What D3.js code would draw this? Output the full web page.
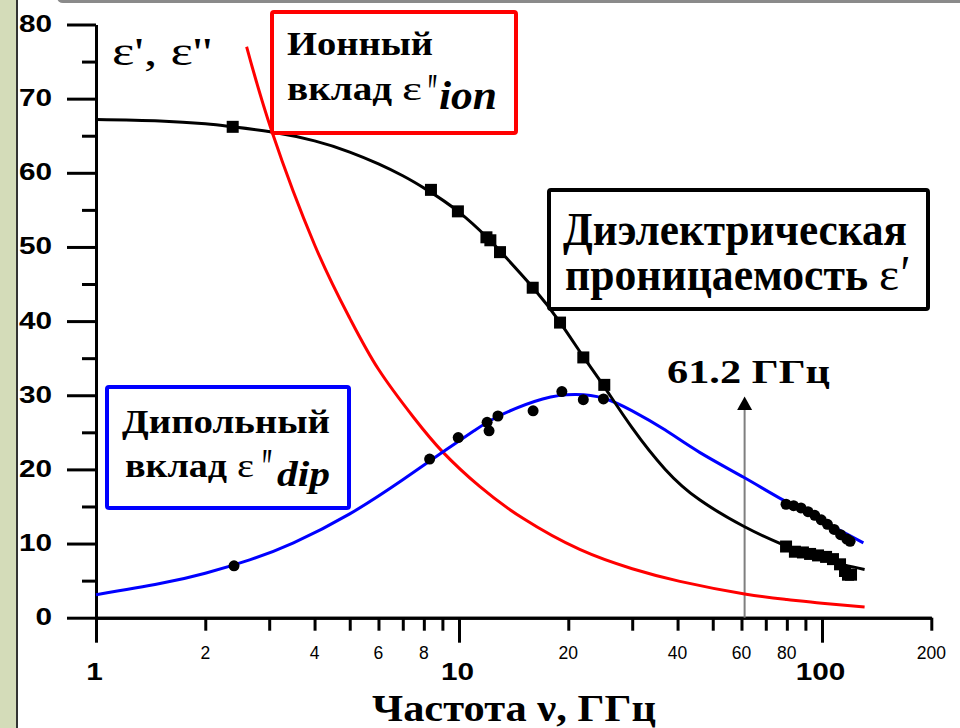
<!DOCTYPE html>
<html>
<head>
<meta charset="utf-8">
<script src="https://cdn.jsdelivr.net/npm/d3@7"></script>
<style>
body { margin: 0; background: #fff; }
svg { display: block; }
</style>
</head>
<body>
<div id="c"></div>
<script>
"use strict";

// ---- data ----
// measured eps' (squares)
const realFreq = [2.38, 8.37, 9.93, 11.9, 12.2, 12.97, 15.96, 18.98, 22.0, 25.13,
                  79.6, 84.2, 88.6, 92.7, 97.5, 102.6, 107.2, 112.1, 115.7, 117.9, 120.2]
const realVal  = [66.2, 57.7, 54.8, 51.3, 50.9, 49.3, 44.5, 39.8, 35.1, 31.4,
                  9.6, 8.9, 8.8, 8.6, 8.4, 8.2, 7.9, 7.2, 6.3, 5.8, 5.8]

// measured eps'' (circles)
const imagFreq = [2.4, 8.3, 9.95, 11.95, 12.1, 12.8, 16.0, 19.2, 22.0, 25.0,
                  79.6, 83.5, 87.5, 91.5, 95.5, 99.5, 103.5, 108, 112.5, 117, 119.5]
const imagVal  = [7.0, 21.4, 24.3, 26.35, 25.2, 27.2, 27.9, 30.5, 29.4, 29.5,
                  15.3, 15.1, 14.8, 14.3, 13.8, 13.2, 12.6, 11.9, 11.2, 10.6, 10.3]

// fitted eps' curve (black)
const fitRealFreq = [1, 1.5, 2, 2.38, 3.05, 4, 5, 6, 7, 8.1, 10, 12, 13, 16, 19, 22, 25,
                     30, 37, 46, 61, 76, 90, 105, 131]
const fitRealVal  = [67.2, 67.0, 66.6, 66.2, 65.5, 64.3, 62.8, 61.2, 59.6, 57.8, 54.7, 51.2, 49.4,
                     44.5, 39.8, 35.2, 31.3, 25.6, 20.0, 15.9, 12.3, 10.1, 8.7, 7.6, 6.5]

// dipole contribution eps''dip (blue)
const dipFreq = [1, 1.5, 2, 2.65, 3.5, 5, 7, 9, 11, 13, 17, 21, 25, 30, 37, 46,
                 61, 76, 92.5, 110, 130]
const dipVal  = [3.1, 4.6, 6.0, 7.8, 10.1, 14.0, 18.6, 22.3, 25.2, 27.3, 29.5, 30.1, 29.6, 27.9, 25.3, 22.3,
                 18.9, 16.2, 14.0, 12.0, 10.1]

// ionic contribution eps''ion (red)
const ionFreq = [2.6, 3.05, 4, 5, 6, 7.5, 9, 11.4, 15, 21.5, 30, 40.6, 61.2, 80, 100, 131]
const ionVal  = [77.0, 65.6, 50.3, 40.4, 33.5, 27.0, 22.4, 17.7, 13.4, 9.2, 6.6, 4.9, 3.2, 2.45, 1.95, 1.45]

const markFreq = 61.2

const xMajorTicks = [1, 10, 100]
const xMinorTicks = [2, 3, 4, 5, 6, 7, 8, 9, 20, 30, 40, 50, 60, 70, 80, 90, 200]
const xMinorLabels = [2, 4, 6, 8, 20, 40, 60, 80, 200]
const yMajorTicks = [0, 10, 20, 30, 40, 50, 60, 70, 80]
const yMinorTicks = [5, 15, 25, 35, 45, 55, 65, 75]

const SERIF = '"Liberation Serif", "Times New Roman", serif'
const SANS = '"Liberation Sans", Arial, sans-serif'

let svg, xScale, yScale

window.onload = function() {
    createChart()
}

function zip(a, b) { return a.map((d, i) => [d, b[i]]) }

function txt(g, str, x, y, size, len, opt) {
    opt = opt || {}
    let t = g.append('text')
        .attr('x', x).attr('y', y)
        .attr('font-family', opt.family || SERIF)
        .attr('font-size', size + 'px')
        .attr('font-weight', opt.weight || 'bold')
        .attr('font-style', opt.style || 'normal')
        .attr('fill', opt.fill || '#000')
        .text(str)
    if (len) t.attr('textLength', len).attr('lengthAdjust', 'spacingAndGlyphs')
    return t
}

function createChart() {
    const W = 960, H = 728
    svg = d3.select('#c').append('svg').attr('width', W).attr('height', H)

    svg.append('rect').attr('width', W).attr('height', H).attr('fill', '#fff')
    // slide frame bits
    svg.append('rect').attr('x', 0).attr('y', 0).attr('width', 16).attr('height', H).attr('fill', '#d4dcb9')
    svg.append('line').attr('x1', 17).attr('x2', 17).attr('y1', 0).attr('y2', H)
        .attr('stroke', '#333').attr('stroke-width', 2)
    svg.append('rect').attr('x', 57).attr('y', -8).attr('width', 930).attr('height', 11)
        .attr('rx', 6).attr('fill', '#8a8a8a')

    xScale = d3.scaleLog().domain([1, 200]).range([96, 931.3])
    yScale = d3.scaleLinear().domain([0, 80]).range([617.7, 24.5])

    // axes
    const axStyle = g => {
        g.selectAll('path, line').attr('stroke', '#000').attr('stroke-width', 3)
        g.selectAll('text').remove()
    }
    svg.append('g').attr('transform', 'translate(0,' + yScale(0) + ')')
        .call(d3.axisBottom(xScale).tickValues(xMinorTicks).tickSize(13).tickSizeOuter(0))
        .call(axStyle)
    svg.append('g').attr('transform', 'translate(0,' + yScale(0) + ')')
        .call(d3.axisBottom(xScale).tickValues(xMajorTicks).tickSize(25).tickSizeOuter(0))
        .call(axStyle)
    svg.append('g').attr('transform', 'translate(' + xScale(1) + ',0)')
        .call(d3.axisLeft(yScale).tickValues(yMinorTicks).tickSize(14).tickSizeOuter(0))
        .call(axStyle)
    svg.append('g').attr('transform', 'translate(' + xScale(1) + ',0)')
        .call(d3.axisLeft(yScale).tickValues(yMajorTicks).tickSize(29).tickSizeOuter(0))
        .call(axStyle)

    // tick labels
    yMajorTicks.forEach(v => {
        svg.append('text')
            .attr('transform', 'translate(52,' + (yScale(v) + 7.5) + ') scale(1.24,1)')
            .attr('text-anchor', 'end')
            .attr('font-family', SANS).attr('font-weight', 'bold').attr('font-size', '24px')
            .text(v)
    })
    xMajorTicks.forEach(v => {
        svg.append('text')
            .attr('transform', 'translate(' + (xScale(v) - 1.5) + ',680) scale(1.24,1)')
            .attr('text-anchor', 'middle')
            .attr('font-family', SANS).attr('font-weight', 'bold').attr('font-size', '24px')
            .text(v)
    })
    xMinorLabels.forEach(v => {
        svg.append('text')
            .attr('x', xScale(v)).attr('y', 659)
            .attr('text-anchor', 'middle')
            .attr('font-family', SANS).attr('font-size', '17.5px')
            .text(v)
    })

    // 61.2 GHz marker
    const mx = xScale(markFreq)
    svg.append('line').attr('x1', mx).attr('x2', mx).attr('y1', 409).attr('y2', yScale(0))
        .attr('stroke', '#7f7f7f').attr('stroke-width', 2)
    svg.append('path')
        .attr('d', 'M' + mx + ',396.5L' + (mx - 7.5) + ',410L' + (mx + 7.5) + ',410Z')
        .attr('fill', '#000')

    // curves
    const line = d3.line()
        .x(d => xScale(d[0]))
        .y(d => yScale(d[1]))
        .curve(d3.curveNatural)
    const curve = (f, v, color) => svg.append('path')
        .datum(zip(f, v))
        .attr('fill', 'none')
        .attr('stroke', color)
        .attr('stroke-width', 3)
        .attr('d', line)
    curve(ionFreq, ionVal, '#ff0000')
    curve(dipFreq, dipVal, '#0000ff')
    curve(fitRealFreq, fitRealVal, '#000')

    // points
    svg.append('g').selectAll('rect')
        .data(zip(realFreq, realVal))
        .enter().append('rect')
        .attr('x', d => xScale(d[0]) - 6)
        .attr('y', d => yScale(d[1]) - 6)
        .attr('width', 12).attr('height', 12)
        .attr('fill', '#000')
    svg.append('g').selectAll('circle')
        .data(zip(imagFreq, imagVal))
        .enter().append('circle')
        .attr('cx', d => xScale(d[0]))
        .attr('cy', d => yScale(d[1]))
        .attr('r', 5.5)
        .attr('fill', '#000')

    // axis titles
    txt(svg, "ε', ε''", 112, 65, 40, 100, {weight: 'normal'})
    txt(svg, 'Частота ν, ГГц', 372, 721, 38, 284)
    txt(svg, '61.2 ГГц', 667, 383, 33, 163)

    // boxes
    const box = (x, y, w, h, color) => svg.append('rect')
        .attr('x', x).attr('y', y).attr('width', w).attr('height', h)
        .attr('rx', 2)
        .attr('fill', '#fff').attr('stroke', color).attr('stroke-width', 4)

    box(272, 12, 244, 121, '#ff0000')
    txt(svg, 'Ионный', 287, 55, 33, 146)
    txt(svg, 'вклад', 287, 100, 33, 105)
    txt(svg, 'ε', 402, 100, 33, 20, {weight: 'normal'})
    txt(svg, '"', 425, 110, 52, 13, {style: 'italic'})
    txt(svg, 'ion', 439, 109, 40, 58, {style: 'italic'})

    box(549, 190, 379, 119, '#000')
    txt(svg, 'Диэлектрическая', 563, 245, 46, 344)
    txt(svg, 'проницаемость', 565, 290, 46, 303)
    txt(svg, 'ε', 879, 290, 46, 20, {weight: 'normal'})
    txt(svg, '′', 900, 290, 50, 10, {style: 'italic'})

    box(107, 387, 242, 121, '#0000ff')
    txt(svg, 'Дипольный', 122, 433, 33, 208)
    txt(svg, 'вклад', 125, 477, 33, 102)
    txt(svg, 'ε', 237, 477, 33, 17, {weight: 'normal'})
    txt(svg, '"', 259, 485, 52, 14, {style: 'italic'})
    txt(svg, 'dip', 277, 486, 36, 53, {style: 'italic'})
}
</script>
</body>
</html>
